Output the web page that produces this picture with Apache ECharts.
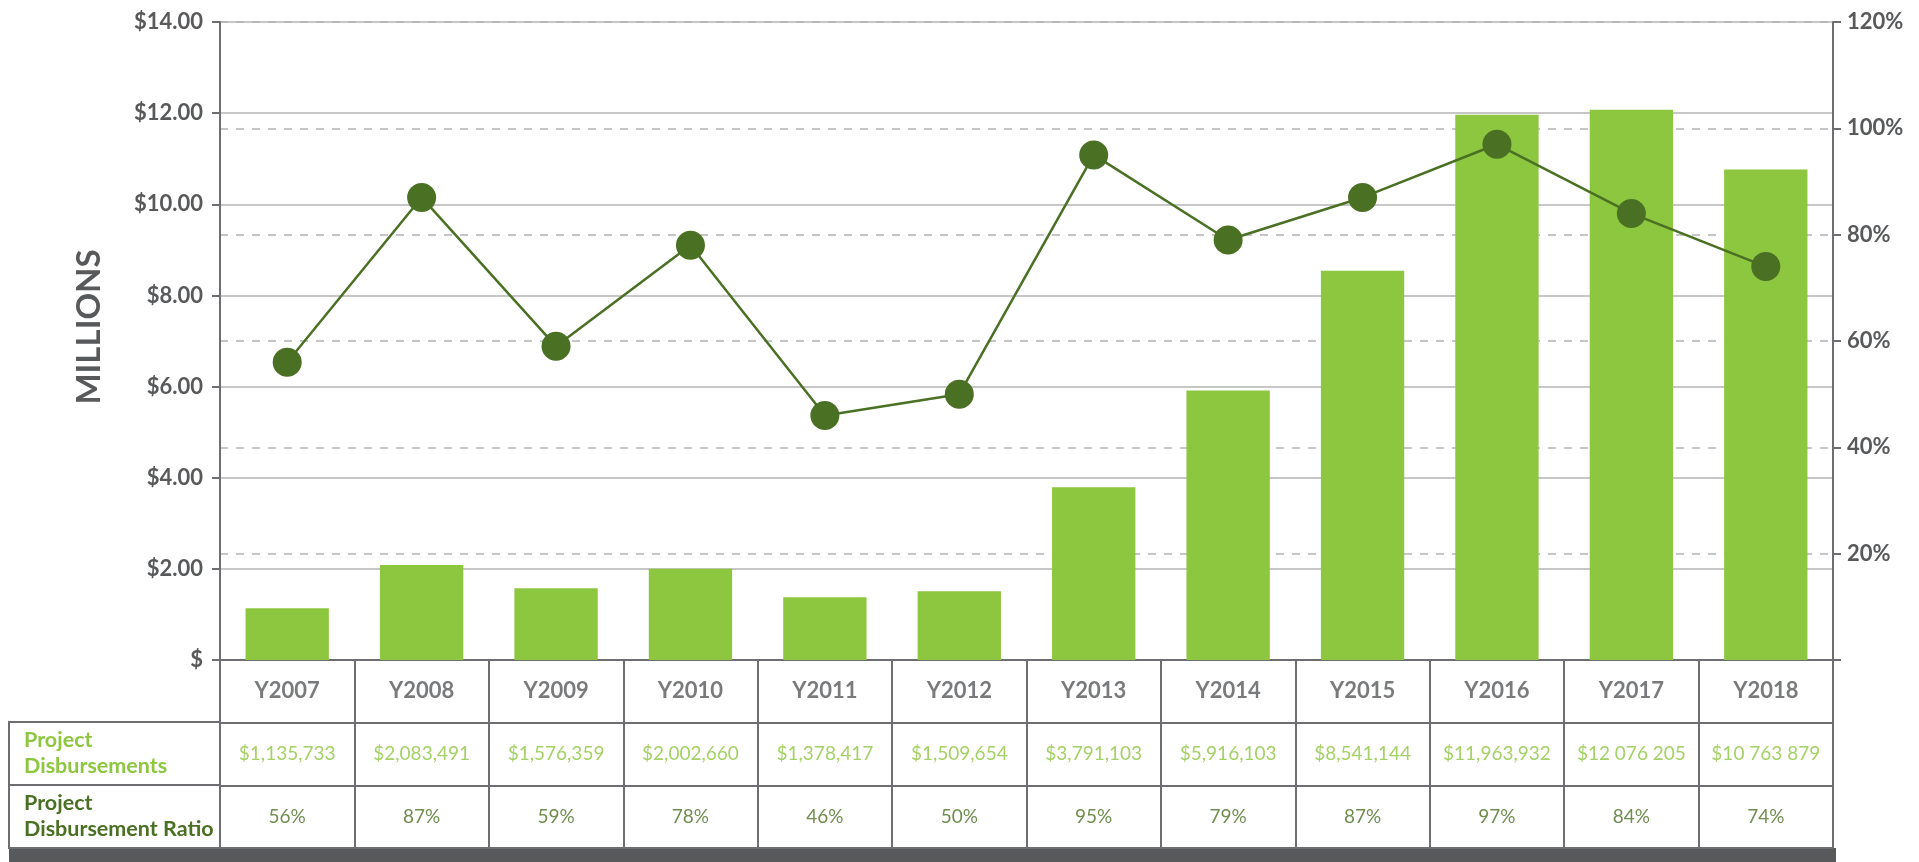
<!DOCTYPE html>
<html>
<head>
<meta charset="utf-8">
<script src="https://cdn.jsdelivr.net/npm/echarts@6/dist/echarts.min.js"></script>
<style>
  html, body { margin: 0; padding: 0; background: #fff; }
  #chart { width: 1919px; height: 862px; }
</style>
</head>
<body>
<div id="chart"></div>
<script>
// data
const years = ['Y2007', 'Y2008', 'Y2009', 'Y2010', 'Y2011', 'Y2012', 'Y2013', 'Y2014', 'Y2015', 'Y2016', 'Y2017', 'Y2018']
const disbursements = [1135733, 2083491, 1576359, 2002660, 1378417, 1509654, 3791103, 5916103, 8541144, 11963932, 12076205, 10763879]
const disbursementLabels = ['$1,135,733', '$2,083,491', '$1,576,359', '$2,002,660', '$1,378,417', '$1,509,654', '$3,791,103', '$5,916,103', '$8,541,144', '$11,963,932', '$12 076 205', '$10 763 879']
const ratios = [56, 87, 59, 78, 46, 50, 95, 79, 87, 97, 84, 74]
const rowNames = ['Project\nDisbursements', 'Project\nDisbursement Ratio']
const tableRows = ['header', 'disb', 'ratio']

// colours
const GREY = '#58595b'
const LINE_GREY = '#6d6e71'
const LIGHT_GREEN = '#8dc63f'
const DARK_GREEN = '#4a7023'
const FONT = 'Lato'

const chart = echarts.init(document.getElementById('chart'))

// table cell text as scatter labels on the table grid
const cellSeries = (rowKey, texts, style) => ({
  type: 'scatter',
  xAxisIndex: 1,
  yAxisIndex: 2,
  symbolSize: 1,
  itemStyle: { color: 'rgba(0,0,0,0)' },
  data: years.map((y, i) => ({ value: [y, rowKey], text: texts[i] })),
  label: {
    show: true,
    position: 'inside',
    formatter: p => p.data.text,
    fontFamily: FONT,
    fontSize: 19,
    ...style
  }
})

const option = {
  animation: false,
  textStyle: { fontFamily: FONT },
  grid: [
    { left: 220, right: 86, top: 22, height: 638 },
    { left: 220, right: 86, top: 660, height: 188, show: true, borderColor: LINE_GREY, borderWidth: 2 },
    { left: 9, width: 211, top: 722, height: 126, show: true, borderColor: LINE_GREY, borderWidth: 2 }
  ],
  xAxis: [
    {
      gridIndex: 0,
      type: 'category',
      data: years,
      axisLine: { lineStyle: { color: LINE_GREY, width: 2 } },
      axisTick: { show: false },
      axisLabel: { show: false }
    },
    {
      gridIndex: 1,
      type: 'category',
      data: years,
      axisLine: { show: false },
      axisTick: { show: false },
      axisLabel: { show: false },
      splitLine: { show: true, interval: 0, lineStyle: { color: LINE_GREY, width: 2 } }
    },
    { gridIndex: 2, type: 'value', show: false, min: 0, max: 1 }
  ],
  yAxis: [
    {
      gridIndex: 0,
      type: 'value',
      position: 'left',
      min: 0,
      max: 14,
      interval: 2,
      name: 'MILLIONS',
      nameLocation: 'middle',
      nameGap: 114,
      nameTextStyle: { fontSize: 33, color: GREY, fontFamily: FONT, fontWeight: 'bold', padding: [0, 0, 0, 28] },
      axisLine: { show: true, lineStyle: { color: LINE_GREY, width: 2 } },
      axisTick: { show: true, length: 8, lineStyle: { color: LINE_GREY, width: 2 } },
      axisLabel: {
        formatter: v => (v === 0 ? '$' : '$' + v.toFixed(2)),
        fontSize: 22,
        fontWeight: 'bold',
        color: GREY,
        margin: 17
      },
      splitLine: { lineStyle: { color: '#b4b4b4', width: 1.5 } }
    },
    {
      gridIndex: 0,
      type: 'value',
      position: 'right',
      min: 0,
      max: 120,
      interval: 20,
      axisLine: { show: true, lineStyle: { color: LINE_GREY, width: 2 } },
      axisTick: { show: true, length: 8, lineStyle: { color: LINE_GREY, width: 2 } },
      axisLabel: {
        formatter: v => (v === 0 ? '' : v + '%'),
        fontSize: 22,
        fontWeight: 'bold',
        color: GREY,
        margin: 14
      },
      splitLine: { show: true, lineStyle: { color: '#b4b4b4', width: 1.5, type: [8, 8] } }
    },
    {
      gridIndex: 1,
      type: 'category',
      data: tableRows,
      inverse: true,
      axisLine: { show: false },
      axisTick: { show: false },
      axisLabel: { show: false },
      splitLine: { show: true, interval: 0, lineStyle: { color: LINE_GREY, width: 2 } }
    },
    {
      gridIndex: 2,
      type: 'category',
      data: rowNames,
      inverse: true,
      axisLine: { show: false },
      axisTick: { show: false },
      axisLabel: {
        inside: true,
        margin: 15,
        formatter: (v, i) => v.split('\n').map(s => `{${i === 0 ? 'd' : 'r'}|${s}}`).join('\n'),
        rich: {
          d: { color: LIGHT_GREEN, fontSize: 21.5, fontWeight: 'bold', fontFamily: FONT, lineHeight: 26 },
          r: { color: DARK_GREEN, fontSize: 21.5, fontWeight: 'bold', fontFamily: FONT, lineHeight: 26 }
        }
      },
      splitLine: { show: true, interval: 0, lineStyle: { color: LINE_GREY, width: 2 } }
    }
  ],
  graphic: [
    // dark band under the table
    { type: 'rect', shape: { x: 9, y: 848, width: 1827, height: 14 }, style: { fill: GREY }, silent: true }
  ],
  series: [
    {
      name: 'Project Disbursements',
      type: 'bar',
      xAxisIndex: 0,
      yAxisIndex: 0,
      data: disbursements.map(v => v / 1e6),
      barWidth: '62%',
      itemStyle: { color: LIGHT_GREEN }
    },
    {
      name: 'Project Disbursement Ratio',
      type: 'line',
      xAxisIndex: 0,
      yAxisIndex: 1,
      data: ratios,
      symbol: 'circle',
      symbolSize: 29,
      lineStyle: { color: DARK_GREEN, width: 2.5 },
      itemStyle: { color: DARK_GREEN }
    },
    cellSeries('header', years, { color: GREY, fontWeight: 'bold', fontSize: 22 }),
    cellSeries('disb', disbursementLabels, { color: LIGHT_GREEN }),
    cellSeries('ratio', ratios.map(v => v + '%'), { color: DARK_GREEN })
  ]
}

chart.setOption(option)
</script>
</body>
</html>
